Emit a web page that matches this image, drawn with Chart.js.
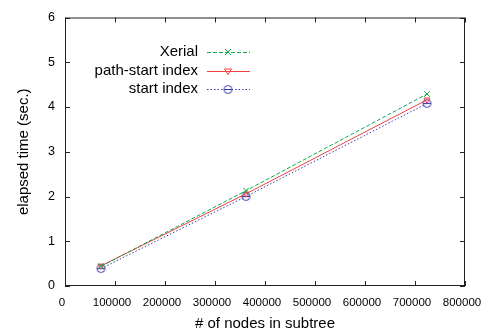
<!DOCTYPE html>
<html><head><meta charset="utf-8">
<script src="https://cdn.jsdelivr.net/npm/chart.js@4"></script>
<style>html,body{margin:0;padding:0;background:#fff;}#c{display:block;}</style>
</head><body>
<canvas id="c" width="482" height="333"></canvas>
<script>
const nodes = [72000, 362000, 724000];
const xerial = [0.44, 2.13, 4.29];
const pathStart = [0.45, 2.06, 4.16];
const startIndex = [0.39, 2.00, 4.08];
const seriesNames = ['Xerial', 'path-start index', 'start index'];
const xTicks = [0, 100000, 200000, 300000, 400000, 500000, 600000, 700000, 800000];
const yTicks = [0, 1, 2, 3, 4, 5, 6];

const FONT = 'Liberation Sans, Arial, sans-serif';
const colors = ['#10a848', '#f04040', '#3838b0'];
const dashes = [[4, 2], [], [1.5, 2]];

function circleBar(color) {
  const c = document.createElement('canvas');
  c.width = 11; c.height = 11;
  const g = c.getContext('2d');
  g.strokeStyle = color; g.lineWidth = 1;
  g.beginPath(); g.arc(5.5, 5.5, 4, 0, Math.PI * 2); g.stroke();
  g.beginPath(); g.moveTo(1.5, 5.5); g.lineTo(9.5, 5.5); g.stroke();
  return c;
}
const circleImg = circleBar(colors[2]);

function toXY(vals) { return nodes.map((n, i) => ({x: n, y: vals[i]})); }

const datasets = [xerial, pathStart, startIndex].map((v, i) => ({
  label: seriesNames[i],
  data: toXY(v),
  borderColor: colors[i],
  backgroundColor: 'rgba(0,0,0,0)',
  borderWidth: 1,
  borderDash: dashes[i],
  pointStyle: ['crossRot', 'triangle', circleImg][i],
  rotation: [0, 180, 0][i],
  pointRadius: [4, 3.5, 4][i],
  pointBorderWidth: 1,
  pointBorderColor: colors[i],
  pointBackgroundColor: 'rgba(0,0,0,0)',
  tension: 0
}));

const frame = {
  id: 'frame',
  afterDraw(chart) {
    const {ctx, chartArea: a, scales} = chart;
    ctx.save();
    ctx.strokeStyle = '#222';
    ctx.lineWidth = 1;
    ctx.strokeRect(a.left + 0.5, a.top + 0.5, a.right - a.left - 1, a.bottom - a.top - 1);
    const L = 5;
    ctx.beginPath();
    xTicks.forEach(t => {
      const px = Math.round(scales.x.getPixelForValue(t)) + 0.5;
      ctx.moveTo(px, a.bottom); ctx.lineTo(px, a.bottom - L);
      ctx.moveTo(px, a.top); ctx.lineTo(px, a.top + L);
    });
    yTicks.forEach(t => {
      const py = Math.round(scales.y.getPixelForValue(t)) + 0.5;
      ctx.moveTo(a.left, py); ctx.lineTo(a.left + L, py);
      ctx.moveTo(a.right, py); ctx.lineTo(a.right - L, py);
    });
    ctx.stroke();
    // legend
    ctx.font = '15px ' + FONT;
    ctx.textAlign = 'right';
    ctx.textBaseline = 'middle';
    const rows = [52, 71, 89];
    datasets.forEach((d, i) => {
      const y = rows[i];
      ctx.fillStyle = '#000';
      ctx.fillText(d.label, 198, y);
      ctx.strokeStyle = colors[i];
      ctx.setLineDash(dashes[i]);
      ctx.beginPath(); ctx.moveTo(207, y + 0.5); ctx.lineTo(250, y + 0.5); ctx.stroke();
      ctx.setLineDash([]);
      const cx = 228;
      ctx.beginPath();
      if (i === 0) {
        ctx.moveTo(cx - 3, y - 3); ctx.lineTo(cx + 3, y + 3);
        ctx.moveTo(cx + 3, y - 3); ctx.lineTo(cx - 3, y + 3);
        ctx.stroke();
      } else if (i === 1) {
        ctx.moveTo(cx - 3.5, y - 2); ctx.lineTo(cx + 3.5, y - 2); ctx.lineTo(cx, y + 3.5); ctx.closePath();
        ctx.stroke();
      } else {
        ctx.drawImage(circleImg, cx - 5.5, y - 5);
      }
    });
    ctx.restore();
  }
};

new Chart(document.getElementById('c'), {
  type: 'line',
  data: {datasets},
  options: {
    responsive: false,
    animation: false,
    devicePixelRatio: 1,
    layout: {padding: {left: 0, right: 17, top: 10, bottom: 0}},
    plugins: {legend: {display: false}, tooltip: {enabled: false}},
    scales: {
      x: {
        type: 'linear', min: 0, max: 800000,
        afterBuildTicks(s) { s.ticks = xTicks.map(v => ({value: v})); },
        afterFit(s) { s.height = 47; s.paddingRight = 17; s.paddingLeft = 0; },
        grid: {display: false, drawTicks: false},
        border: {display: false},
        ticks: {font: {family: FONT, size: 11.5}, color: '#000', padding: 10, maxRotation: 0, autoSkip: false,
                labelOffset: -3, callback: v => String(v)},
        title: {display: true, text: '# of nodes in subtree', font: {family: FONT, size: 15}, color: '#000', padding: {top: 0, bottom: 0}}
      },
      y: {
        type: 'linear', min: 0, max: 6,
        afterBuildTicks(s) { s.ticks = yTicks.map(v => ({value: v})); },
        afterFit(s) { s.width = 65; },
        grid: {display: false, drawTicks: false},
        border: {display: false},
        ticks: {font: {family: FONT, size: 12.5}, color: '#000', padding: 10},
        title: {display: true, text: 'elapsed time (sec.)', font: {family: FONT, size: 15}, color: '#000', padding: {top: 15, bottom: 0}}
      }
    }
  },
  plugins: [frame]
});
</script>
</body></html>
